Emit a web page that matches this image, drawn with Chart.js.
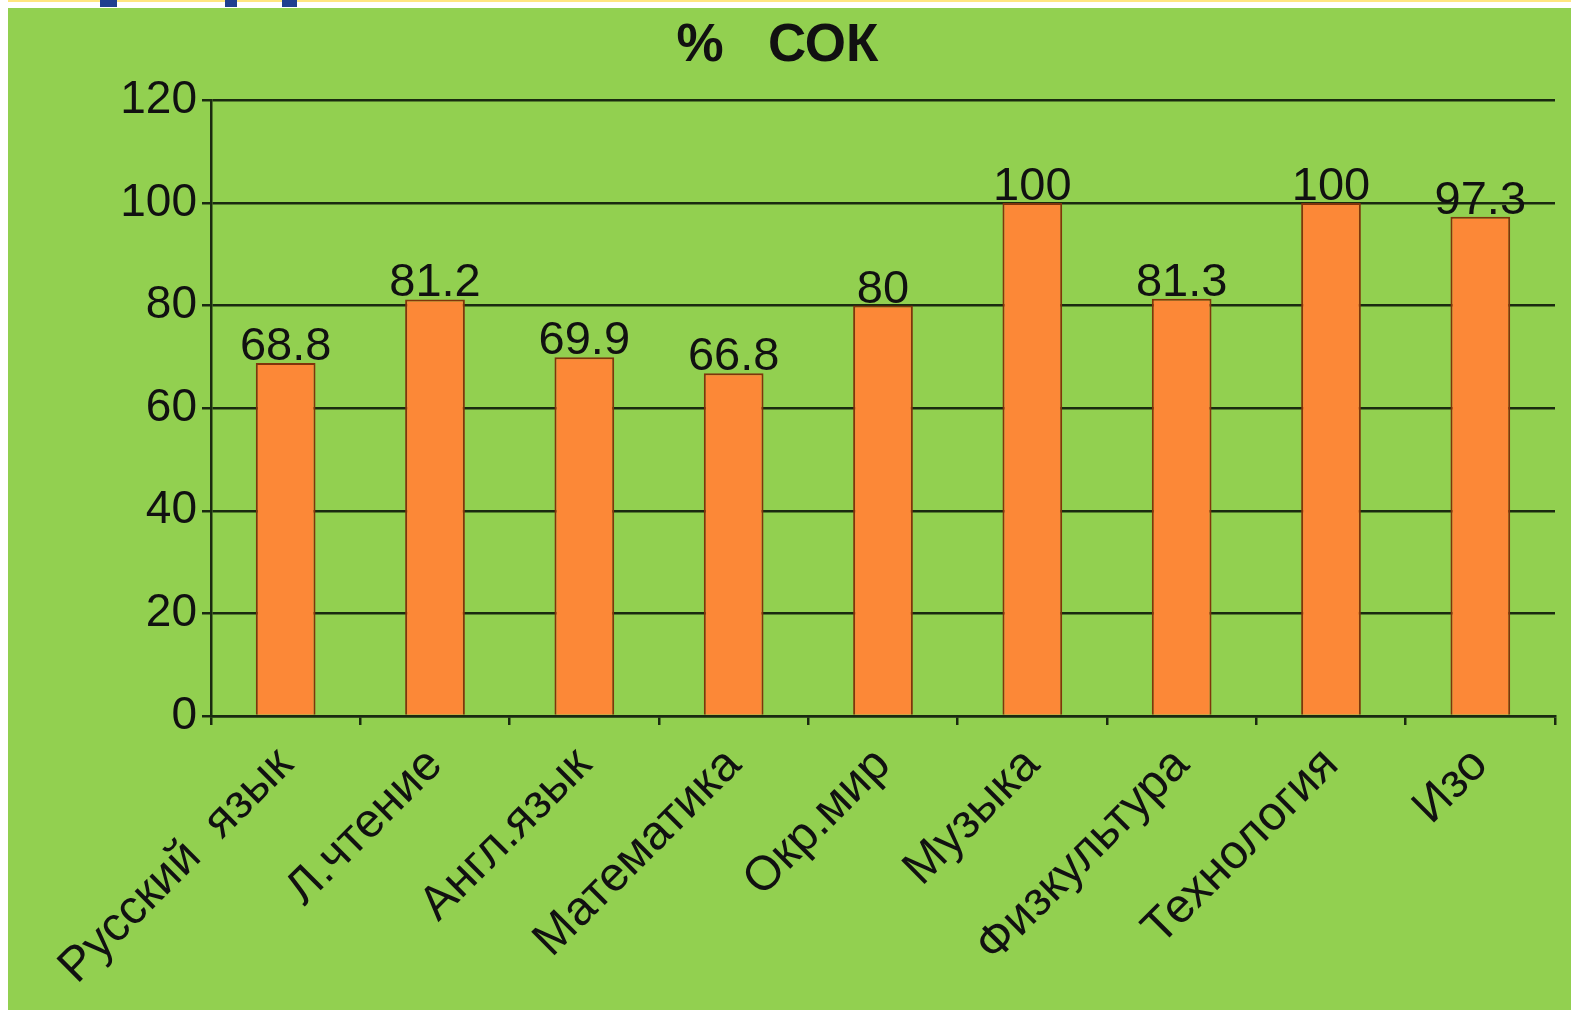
<!DOCTYPE html>
<html><head><meta charset="utf-8">
<script src="https://cdn.jsdelivr.net/npm/chart.js@4"></script>
<style>
html,body{margin:0;padding:0;background:#fff;width:1571px;height:1010px;overflow:hidden;font-family:"Liberation Sans",Arial,sans-serif}
#topline{position:absolute;left:8px;top:0;width:1563px;height:2px;background:#FFE680}
.frag{position:absolute;top:0;height:7px;background:#1F3F8F}
#panel{position:absolute;left:8px;top:8px;width:1563px;height:1002px;background:#92D050}
#wrap{position:absolute;left:0;top:0;width:1571px;height:1010px}
</style></head>
<body>
<div id="topline"></div>
<div class="frag" style="left:100px;width:17px"></div>
<div class="frag" style="left:225px;width:12px"></div>
<div class="frag" style="left:282px;width:15px"></div>
<div id="panel"></div>
<div id="wrap"><canvas id="c" width="1571" height="1010"></canvas></div>
<script>
const categories = ["Русский  язык","Л.чтение","Англ.язык","Математика","Окр.мир","Музыка","Физкультура","Технология","Изо"];
const values = [68.8, 81.2, 69.9, 66.8, 80, 100, 81.3, 100, 97.3];
const yTicks = [0, 20, 40, 60, 80, 100, 120];
const chartTitle = "%   СОК";

const valueLabels = {
  id: 'valueLabels',
  afterDatasetsDraw(chart) {
    const ctx = chart.ctx;
    const meta = chart.getDatasetMeta(0);
    ctx.save();
    ctx.font = '47px "Liberation Sans", Arial, sans-serif';
    ctx.fillStyle = '#111';
    ctx.textAlign = 'center';
    ctx.textBaseline = 'alphabetic';
    meta.data.forEach((bar, i) => {
      ctx.fillText(String(values[i]), bar.x, bar.y - 3);
    });
    ctx.restore();
  }
};

const gridColor = '#1a2a10';
new Chart(document.getElementById('c'), {
  type: 'bar',
  data: {
    labels: categories,
    datasets: [{
      data: values,
      backgroundColor: '#FC8837',
      borderColor: '#7F350B',
      borderWidth: 2,
      categoryPercentage: 0.8,
      barPercentage: 0.5
    }]
  },
  options: {
    responsive: false,
    animation: false,
    layout: { padding: { left: 0, right: 16, top: 0, bottom: 0 } },
    plugins: {
      legend: { display: false },
      tooltip: { enabled: false },
      title: {
        display: true,
        text: chartTitle,
        color: '#111',
        font: { family: '"Liberation Sans", Arial, sans-serif', size: 53, weight: 'bold', lineHeight: 1.1 },
        padding: { top: 17, bottom: 25 }
      }
    },
    scales: {
      x: {
        offset: true,
        grid: { display: true, drawOnChartArea: false, drawTicks: true, tickLength: 9, color: gridColor, lineWidth: 2.5, offset: true },
        border: { display: true, color: gridColor, width: 2.5 },
        ticks: {
          color: '#111',
          font: { family: '"Liberation Sans", Arial, sans-serif', size: 48 },
          minRotation: 45, maxRotation: 45, autoSkip: false, padding: 12
        },
        afterFit(scale) { scale.height = 294; }
      },
      y: {
        min: 0, max: 120,
        afterBuildTicks(scale) { scale.ticks = yTicks.map(v => ({ value: v })); },
        grid: { color: gridColor, lineWidth: 2.5, drawTicks: true, tickLength: 9 },
        border: { display: true, color: gridColor, width: 2.5 },
        ticks: {
          color: '#111',
          font: { family: '"Liberation Sans", Arial, sans-serif', size: 46 },
          padding: 5
        },
        afterFit(scale) { scale.width = 211; }
      }
    }
  },
  plugins: [valueLabels]
});
</script>
</body></html>
